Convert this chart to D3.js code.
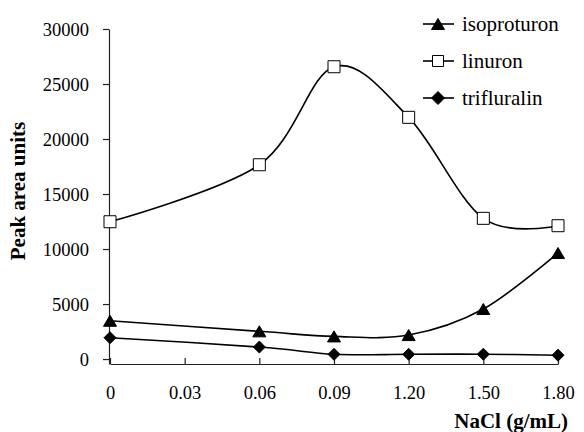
<!DOCTYPE html>
<html>
<head>
<meta charset="utf-8">
<script src="https://cdn.jsdelivr.net/npm/d3@7"></script>
<style>
	body { margin: 0; background: #fff; }
	svg { display: block; }
</style>
</head>
<body>
<svg id="chart" width="584" height="432"></svg>
<script>
// categories on the x axis (0.03 has no measurement)
var categories = ["0", "0.03", "0.06", "0.09", "1.20", "1.50", "1.80"];
var sampleX = ["0", "0.06", "0.09", "1.20", "1.50", "1.80"];

var isoproturon = [3480, 2520, 2060, 2180, 4550, 9640];
var linuron = [12480, 17660, 26570, 21970, 12790, 12120];
var trifluralin = [1940, 1090, 430, 430, 440, 350];

var yTicks = [0, 5000, 10000, 15000, 20000, 25000, 30000];
var yFloor = -450; // x axis sits a little under zero

var seriesNames = ["isoproturon", "linuron", "trifluralin"];
var seriesValues = [isoproturon, linuron, trifluralin];
var seriesMarkers = ["triangle", "square", "diamond"];

var serif = "'Liberation Serif', 'Times New Roman', Times, serif";

var svg = d3.select("#chart");
svg.append("rect").attr("width", 584).attr("height", 432).attr("fill", "#fff");

var x = d3.scalePoint().domain(categories).range([110, 558]);
var y = d3.scaleLinear().domain([yFloor, 30000]).range([364, 29]);

// marker shapes, centered on the point
function markerPath(type, s) {
	var h = s / 2;
	if (type === "triangle") {
		return "M0," + (-h * 0.85) + "L" + h + "," + (h * 0.85) + "L" + (-h) + "," + (h * 0.85) + "Z";
	}
	if (type === "square") {
		return "M" + (-h) + "," + (-h) + "h" + s + "v" + s + "h" + (-s) + "Z";
	}
	return "M0," + (-h) + "L" + h + ",0L0," + h + "L" + (-h) + ",0Z";
}

function markerFill(type) {
	return type === "square" ? "#fff" : "#000";
}

// y axis
var yAxis = d3.axisLeft(y).tickValues(yTicks).tickSizeInner(6).tickSizeOuter(0)
	.tickFormat(function (d) { return d; }).tickPadding(14);
var gy = svg.append("g").attr("transform", "translate(109,0)").call(yAxis)
	.attr("font-family", serif).attr("font-size", 18.5);
gy.select(".domain").attr("stroke", "#222").attr("stroke-width", 1.2);
gy.selectAll(".tick line").attr("stroke", "#222").attr("stroke-width", 1.2);
gy.selectAll(".tick text").attr("fill", "#000").attr("dy", "0.34em");

// x axis, ticks pointing up
var xAxis = d3.axisBottom(x).tickSizeInner(-6).tickSizeOuter(0).tickPadding(22);
var gx = svg.append("g").attr("transform", "translate(0," + y(yFloor) + ")").call(xAxis)
	.attr("font-family", serif).attr("font-size", 18.5);
gx.select(".domain").attr("stroke", "#222").attr("stroke-width", 1.2);
gx.selectAll(".tick line").attr("stroke", "#222").attr("stroke-width", 1.2);
gx.selectAll(".tick text").attr("fill", "#000");

// series
var line = d3.line()
	.x(function (d) { return x(d.x); })
	.y(function (d) { return y(d.v); })
	.curve(d3.curveCardinal.tension(0));

seriesNames.forEach(function (name, i) {
	var pts = sampleX.map(function (c, j) { return { x: c, v: seriesValues[i][j] }; });
	var g = svg.append("g").attr("class", "series-" + name);
	g.append("path")
		.datum(pts)
		.attr("d", line)
		.attr("fill", "none")
		.attr("stroke", "#000")
		.attr("stroke-width", 1.6);
	g.selectAll("path.marker")
		.data(pts)
		.enter().append("path")
		.attr("class", "marker")
		.attr("transform", function (d) { return "translate(" + x(d.x) + "," + y(d.v) + ")"; })
		.attr("d", markerPath(seriesMarkers[i], seriesMarkers[i] === "triangle" ? 13 : 12))
		.attr("fill", markerFill(seriesMarkers[i]))
		.attr("stroke", "#000")
		.attr("stroke-width", 1);
});

// legend
var legend = svg.append("g").attr("transform", "translate(423,24)");
seriesNames.forEach(function (name, i) {
	var row = legend.append("g").attr("transform", "translate(0," + (i * 37) + ")");
	row.append("line").attr("x1", 0).attr("x2", 31).attr("y1", 0).attr("y2", 0)
		.attr("stroke", "#000").attr("stroke-width", 1.6);
	row.append("path")
		.attr("transform", "translate(15,0)")
		.attr("d", markerPath(seriesMarkers[i], seriesMarkers[i] === "square" ? 11 : 13))
		.attr("fill", markerFill(seriesMarkers[i]))
		.attr("stroke", "#000")
		.attr("stroke-width", 1);
	row.append("text").attr("x", 39).attr("y", 0).attr("dy", "0.33em")
		.attr("font-family", serif).attr("font-size", 21).text(name);
});

// axis titles
svg.append("text")
	.attr("transform", "translate(25,191) rotate(-90)")
	.attr("text-anchor", "middle")
	.attr("font-family", serif).attr("font-size", 21).attr("font-weight", "bold")
	.text("Peak area units");

svg.append("text")
	.attr("x", 568).attr("y", 428)
	.attr("text-anchor", "end")
	.attr("font-family", serif).attr("font-size", 21).attr("font-weight", "bold")
	.text("NaCl (g/mL)");
</script>
</body>
</html>
